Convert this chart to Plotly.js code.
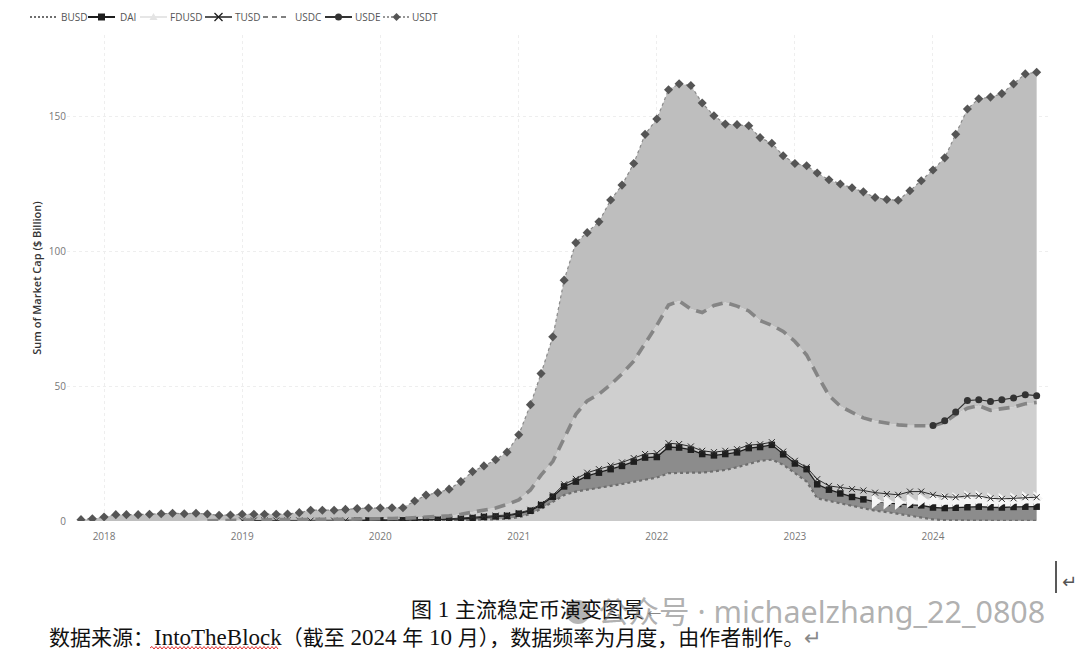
<!DOCTYPE html>
<html>
<head>
<meta charset="utf-8">
<script src="https://cdn.plot.ly/plotly-3.0.1.min.js"></script>
<style>
  html, body { margin: 0; padding: 0; background: #ffffff; }
  #chart { width: 1080px; height: 658px; }
</style>
</head>
<body>
<div id="chart"></div>
<script>
// ---------- DATA (USD billions, monthly, Nov 2017 - Oct 2024) ----------
const months = [
  '2017-11-01','2017-12-01',
  '2018-01-01','2018-02-01','2018-03-01','2018-04-01','2018-05-01','2018-06-01','2018-07-01','2018-08-01','2018-09-01','2018-10-01','2018-11-01','2018-12-01',
  '2019-01-01','2019-02-01','2019-03-01','2019-04-01','2019-05-01','2019-06-01','2019-07-01','2019-08-01','2019-09-01','2019-10-01','2019-11-01','2019-12-01',
  '2020-01-01','2020-02-01','2020-03-01','2020-04-01','2020-05-01','2020-06-01','2020-07-01','2020-08-01','2020-09-01','2020-10-01','2020-11-01','2020-12-01',
  '2021-01-01','2021-02-01','2021-03-01','2021-04-01','2021-05-01','2021-06-01','2021-07-01','2021-08-01','2021-09-01','2021-10-01','2021-11-01','2021-12-01',
  '2022-01-01','2022-02-01','2022-03-01','2022-04-01','2022-05-01','2022-06-01','2022-07-01','2022-08-01','2022-09-01','2022-10-01','2022-11-01','2022-12-01',
  '2023-01-01','2023-02-01','2023-03-01','2023-04-01','2023-05-01','2023-06-01','2023-07-01','2023-08-01','2023-09-01','2023-10-01','2023-11-01','2023-12-01',
  '2024-01-01','2024-02-01','2024-03-01','2024-04-01','2024-05-01','2024-06-01','2024-07-01','2024-08-01','2024-09-01','2024-10-01'
];

const BUSD = [
  null,null,
  null,null,null,null,null,null,null,null,null,null,null,null,
  null,null,null,null,null,null,null,null,0.01,0.02,0.02,0.02,
  0.02,0.03,0.04,0.06,0.1,0.15,0.17,0.25,0.4,0.6,0.7,0.8,
  1.4,2.6,4.5,7.0,9.6,10.9,11.5,12.1,13.0,13.7,14.6,15.2,
  16.1,17.7,17.9,17.9,17.9,18.3,18.9,19.9,21.2,22.3,22.7,20.8,
  17.7,14.6,8.4,7.5,6.6,5.5,4.7,3.8,3.3,2.6,2.0,1.2,
  0.6,0.3,0.2,0.1,0.1,0.1,0.1,0.05,0.05,0.05
];

const DAI = [
  null,null,
  null,null,null,null,null,null,null,null,null,null,null,null,
  null,null,null,null,null,null,null,null,null,null,0.1,0.15,
  0.18,0.19,0.21,0.24,0.25,0.3,0.43,0.55,0.7,0.9,1.0,1.1,
  1.3,1.2,1.4,2.0,3.2,3.7,5.2,5.8,6.2,6.7,7.4,8.3,
  7.6,9.7,9.3,8.5,6.9,6.0,5.9,5.5,5.8,5.1,5.5,3.9,
  3.6,4.6,5.2,4.1,3.6,3.4,3.3,3.4,3.4,3.7,4.0,4.6,
  4.4,4.5,4.7,5.0,5.2,5.0,4.9,5.15,5.25,5.25
];

const FDUSD = [
  null,null,
  null,null,null,null,null,null,null,null,null,null,null,null,
  null,null,null,null,null,null,null,null,null,null,null,null,
  null,null,null,null,null,null,null,null,null,null,null,null,
  null,null,null,null,null,null,null,null,null,null,null,null,
  null,null,null,null,null,null,null,null,null,null,null,null,
  null,null,null,null,null,null,null,0.1,0.3,0.6,1.4,2.1,
  3.2,3.2,3.1,3.5,3.4,2.8,2.7,2.7,3.0,3.0
];

const TUSD = [
  null,null,
  null,null,null,null,null,null,null,null,null,null,null,null,
  0.2,0.2,0.2,0.2,0.2,0.2,0.15,0.15,0.15,0.15,0.15,0.15,
  0.15,0.15,0.15,0.15,0.15,0.15,0.2,0.3,0.35,0.35,0.3,0.3,
  0.3,0.35,0.4,0.5,0.8,1.0,1.2,1.3,1.3,1.3,1.3,1.3,
  1.4,1.4,1.3,1.2,1.2,1.2,1.2,1.2,1.1,1.0,1.0,1.0,
  1.0,0.7,1.9,1.4,2.3,2.9,3.3,3.2,3.0,2.8,3.5,3.0,
  1.5,1.0,0.8,0.7,0.6,0.5,0.5,0.5,0.5,0.5
];

const USDC = [
  null,null,
  null,null,null,null,null,null,null,null,null,0.1,0.2,0.25,
  0.3,0.27,0.25,0.3,0.35,0.45,0.5,0.45,0.45,0.45,0.45,0.45,
  0.5,0.55,0.6,0.75,0.9,1.0,1.1,1.4,1.9,2.3,2.8,3.9,
  4.8,7.35,10.7,12.5,16.9,23.9,26.6,27.8,30.0,32.8,35.9,41.0,
  47.4,51.2,53.0,50.9,51.2,54.3,54.9,53.0,49.7,45.8,43.3,44.5,
  44.2,41.6,38.5,33.5,30.0,28.4,26.9,26.5,26.2,25.9,24.4,24.4,
  25.6,27.6,30.6,32.5,33.4,32.6,33.3,33.8,34.6,35.1
];

const USDE = [
  null,null,
  null,null,null,null,null,null,null,null,null,null,null,null,
  null,null,null,null,null,null,null,null,null,null,null,null,
  null,null,null,null,null,null,null,null,null,null,null,null,
  null,null,null,null,null,null,null,null,null,null,null,null,
  null,null,null,null,null,null,null,null,null,null,null,null,
  null,null,null,null,null,null,null,null,null,null,null,null,
  0.05,0.5,1.0,2.8,2.2,3.3,3.4,3.4,3.4,2.5
];

const USDT = [
  0.5,0.8,
  1.5,2.35,2.35,2.35,2.5,2.7,2.85,2.7,2.85,2.5,1.9,1.95,
  2.0,2.03,2.05,2.0,2.05,2.45,3.35,3.4,3.39,3.68,3.88,4.03,
  3.95,3.98,3.9,6.2,8.2,8.9,9.9,12.1,14.95,16.25,17.9,19.4,
  24.1,31.6,37.6,46.2,58.7,63.6,62.3,63.8,68.4,69.9,73.2,77.4,
  76.4,79.7,80.4,82.8,77.6,70.3,66.1,67.2,68.6,67.8,67.4,65.1,
  65.9,70.1,74.9,79.9,82.3,83.2,83.7,82.8,82.9,83.2,87.0,90.7,
  94.65,97.4,102.8,108.0,111.5,112.7,113.4,116.3,118.8,119.8
];

const seriesNames = ['BUSD','DAI','FDUSD','TUSD','USDC','USDE','USDT'];
const yearTicks = ['2018-01-01','2019-01-01','2020-01-01','2021-01-01','2022-01-01','2023-01-01','2024-01-01'];
const yearLabels = ['2018','2019','2020','2021','2022','2023','2024'];
const yTicks = [0, 50, 100, 150];

// ---------- STYLES ----------
const seriesValues = [BUSD, DAI, FDUSD, TUSD, USDC, USDE, USDT];
const styles = [
  {fill:'#c9c9c9', line:{color:'#6e6e6e', width:2.2, dash:'dot'}, marker:{symbol:'circle', size:1, color:'#6e6e6e'}},
  {fill:'#8c8c8c', line:{color:'#1e1e1e', width:1.3}, marker:{symbol:'square', size:6.5, color:'#1e1e1e'}},
  {fill:'#f3f3f3', line:{color:'#e2e2e2', width:1.3}, marker:{symbol:'triangle-right', size:13, color:'#f6f6f6'}},
  {fill:'#c9c9c9', line:{color:'#2a2a2a', width:1}, marker:{symbol:'x-thin', size:6, color:'#2a2a2a', line:{width:1, color:'#2a2a2a'}}},
  {fill:'#cfcfcf', line:{color:'#858585', width:3.6, dash:'11px,7px'}, marker:{size:1, color:'#858585'}},
  {fill:'#c2c2c2', line:{color:'#333333', width:1.2}, marker:{symbol:'circle', size:7, color:'#333333'}},
  {fill:'#bebebe', line:{color:'#8a8a8a', width:1.2, dash:'dot'}, marker:{symbol:'diamond', size:7, color:'#555555'}}
];
const modes = ['lines','lines+markers','lines+markers','lines+markers','lines','lines+markers','lines+markers'];

// custom legend geometry (pixels)
const legendLineX = [30, 88, 140, 205, 263, 325, 383];
const legendTextX = [59, 118, 168, 233, 293, 353, 410];
const legendY = 17, legendLineLen = 27;
const legendStyles = [
  {color:'#6e6e6e', width:2, dash:'2px,2px', mk:null},
  {color:'#1e1e1e', width:2, dash:'solid', mk:'square', mc:'#1e1e1e'},
  {color:'#dedede', width:1.5, dash:'solid', mk:'triangle', mc:'#e4e4e4'},
  {color:'#1e1e1e', width:1.5, dash:'solid', mk:'x', mc:'#1e1e1e'},
  {color:'#808080', width:2, dash:'5px,4px', mk:null},
  {color:'#333333', width:2, dash:'solid', mk:'circle', mc:'#333333'},
  {color:'#777777', width:1.5, dash:'2px,2px', mk:'diamond', mc:'#555555'}
];

// ---------- TRACES ----------
const traces = [];
seriesValues.forEach((vals, k) => {
  traces.push({
    type:'scatter', x: months, y: vals.map(v => v === null ? 0 : v),
    stackgroup:'areas', mode:'none', fillcolor: styles[k].fill,
    showlegend:false, hoverinfo:'skip', name: seriesNames[k] + ' area'
  });
});
const running = months.map(() => 0);
seriesValues.forEach((vals, k) => {
  const ys = vals.map((v, i) => {
    if (v === null) return null;
    running[i] += v;
    return running[i];
  });
  traces.push({
    type:'scatter', x: months, y: ys, name: seriesNames[k], showlegend:false,
    mode: modes[k], line: styles[k].line, marker: styles[k].marker,
    connectgaps:false, hoverinfo:'x+y+name'
  });
});

// ---------- LAYOUT ----------
const L = 67, T = 35, W = 981, H = 486;
const px = x => (x - L) / W;
const py = y => (T + H - y) / H;
const P = (x, y) => px(x) + ',' + py(y);

const shapes = [];
const annotations = [];

// custom legend
seriesNames.forEach((nm, k) => {
  const s = legendStyles[k];
  const x0 = legendLineX[k], x1 = x0 + legendLineLen, cx = (x0 + x1) / 2, cy = legendY;
  shapes.push({type:'line', xref:'paper', yref:'paper', x0:px(x0), x1:px(x1), y0:py(cy), y1:py(cy),
               line:{color:s.color, width:s.width, dash:s.dash}});
  const r = 3.5;
  if (s.mk === 'square') {
    shapes.push({type:'rect', xref:'paper', yref:'paper', x0:px(cx - r), x1:px(cx + r), y0:py(cy + r), y1:py(cy - r),
                 fillcolor:s.mc, line:{width:0}});
  } else if (s.mk === 'circle') {
    shapes.push({type:'circle', xref:'paper', yref:'paper', x0:px(cx - r), x1:px(cx + r), y0:py(cy + r), y1:py(cy - r),
                 fillcolor:s.mc, line:{width:0}});
  } else if (s.mk === 'diamond') {
    shapes.push({type:'path', xref:'paper', yref:'paper',
                 path:'M' + P(cx, cy - 4) + 'L' + P(cx + 4, cy) + 'L' + P(cx, cy + 4) + 'L' + P(cx - 4, cy) + 'Z',
                 fillcolor:s.mc, line:{width:0}});
  } else if (s.mk === 'triangle') {
    shapes.push({type:'path', xref:'paper', yref:'paper',
                 path:'M' + P(cx, cy - 4) + 'L' + P(cx + 4, cy + 3) + 'L' + P(cx - 4, cy + 3) + 'Z',
                 fillcolor:s.mc, line:{width:0}});
  } else if (s.mk === 'x') {
    shapes.push({type:'path', xref:'paper', yref:'paper',
                 path:'M' + P(cx - 4, cy - 4) + 'L' + P(cx + 4, cy + 4) + 'M' + P(cx - 4, cy + 4) + 'L' + P(cx + 4, cy - 4),
                 line:{color:s.mc, width:1.3}});
  }
  annotations.push({xref:'paper', yref:'paper', x:px(legendTextX[k]), y:py(legendY), xanchor:'left', yanchor:'middle',
                    showarrow:false, text:nm, font:{size:10, color:'#555'}});
});

// WeChat-like watermark icon
shapes.push({type:'circle', xref:'paper', yref:'paper', x0:px(566), x1:px(590), y0:py(600), y1:py(624),
             fillcolor:'rgba(120,120,120,0.55)', line:{width:0}, layer:'above'});
// spell-check wavy underline under "IntoTheBlock"
let wave = 'M' + P(150, 648);
for (let x = 152, up = true; x <= 278; x += 2, up = !up) wave += 'L' + P(x, up ? 646.5 : 649);
shapes.push({type:'path', xref:'paper', yref:'paper', path:wave, line:{color:'#e03030', width:1}});
// Word text cursor
shapes.push({type:'line', xref:'paper', yref:'paper', x0:px(1056), x1:px(1056), y0:py(561), y1:py(593),
             line:{color:'#222', width:1.5}});

const capFont = 'Liberation Serif, "Noto Sans CJK SC", serif';
const lat = t => '<span style="font-size:23px">' + t + '</span>';
annotations.push(
  {xref:'paper', yref:'paper', x:px(409), y:py(609), xanchor:'left', yanchor:'middle', showarrow:false,
   text:'图' + lat(' 1 ') + '主流稳定币演变图景<span style="color:#888">←</span>', font:{family:capFont, size:21, color:'#111'}},
  {xref:'paper', yref:'paper', x:px(47), y:py(637), xanchor:'left', yanchor:'middle', showarrow:false,
   text:'数据来源：' + lat('IntoTheBlock') + '（截至' + lat(' 2024 ') + '年' + lat(' 10 ') + '月），数据频率为月度，由作者制作。<span style="color:#888">↵</span>',
   font:{family:capFont, size:21, color:'#111'}},
  {xref:'paper', yref:'paper', x:px(596), y:py(611), xanchor:'left', yanchor:'middle', showarrow:false,
   text:'公众号 · michaelzhang_22_0808', font:{family:'"Noto Sans", "Noto Sans CJK SC", sans-serif', size:30.5, color:'rgba(110,110,110,0.55)'}},
  {xref:'paper', yref:'paper', x:px(1060), y:py(581), xanchor:'left', yanchor:'middle', showarrow:false,
   text:'↵', font:{family:'DejaVu Sans', size:18, color:'#555'}}
);

const layout = {
  width:1080, height:658,
  margin:{l:L, r:1080 - L - W, t:T, b:658 - T - H, pad:0},
  paper_bgcolor:'#ffffff', plot_bgcolor:'#ffffff',
  font:{family:'"Open Sans", "Noto Sans", sans-serif', size:10, color:'#666'},
  showlegend:false,
  xaxis:{type:'date', range:['2017-09-25','2024-10-31'], tickvals:yearTicks, ticktext:yearLabels,
         showgrid:true, gridcolor:'#eeeeee', griddash:'dot', gridwidth:1, ticklabelstandoff:8,
         zeroline:false, showline:false, ticks:'', tickfont:{size:10, color:'#777'}},
  yaxis:{range:[0,180], tickvals:yTicks, showgrid:true, gridcolor:'#eeeeee', griddash:'dot', gridwidth:1,
         zeroline:false, showline:false, ticks:'', tickfont:{size:10, color:'#777'},
         title:{text:'Sum of Market Cap ($ Billion)', font:{size:11, color:'#333', weight:600}, standoff:4}},
  shapes: shapes,
  annotations: annotations
};

Plotly.newPlot('chart', traces, layout, {displayModeBar:false, staticPlot:true});
</script>
</body>
</html>
